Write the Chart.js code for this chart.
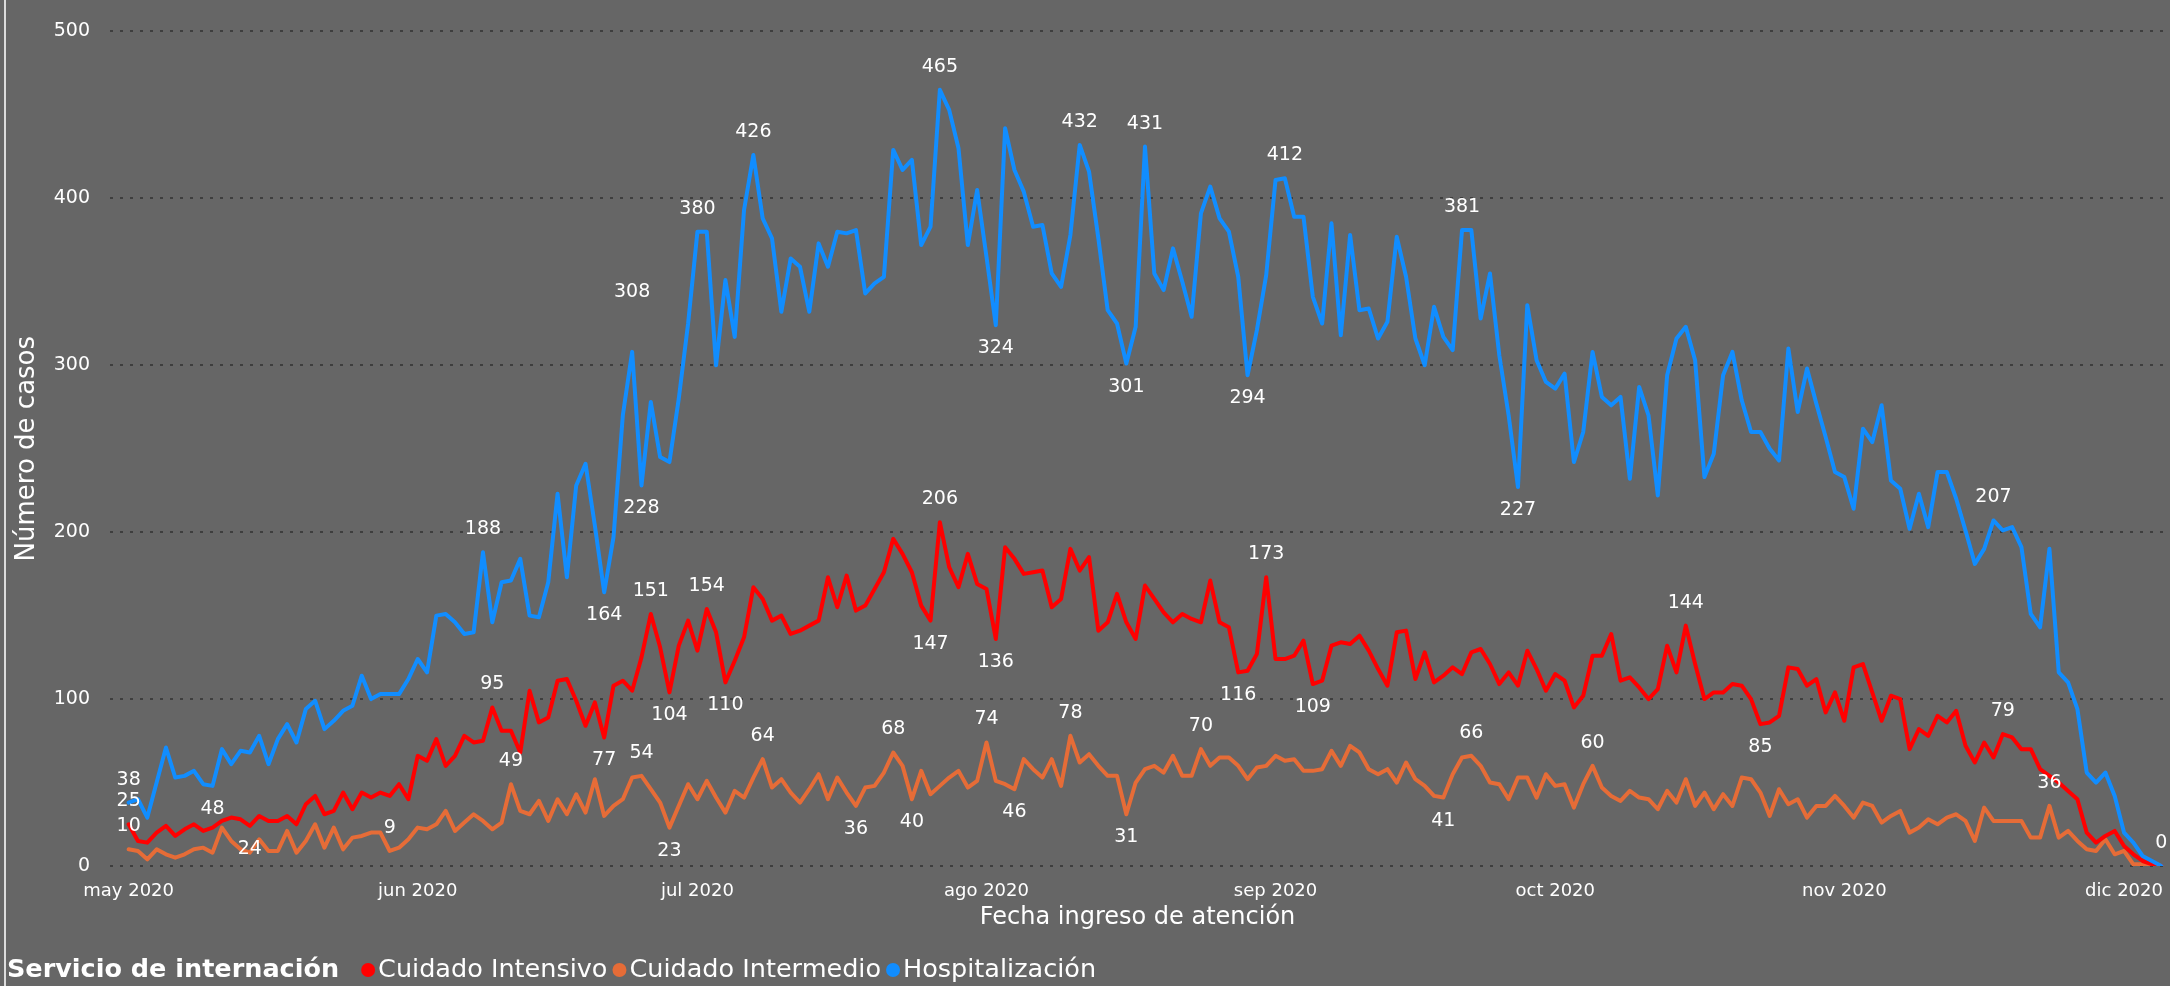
<!DOCTYPE html>
<html>
<head>
<meta charset="utf-8">
<script src="https://cdn.jsdelivr.net/npm/chart.js@4.4.0/dist/chart.umd.min.js"></script>
<style>
html,body{margin:0;padding:0;background:#666666;}
#wrap{position:relative;width:2170px;height:986px;}
</style>
</head>
<body>
<div id="wrap"><canvas id="c"></canvas></div>
<script>
// x values are day offsets from 1 May 2020
const MONTH_TICKS = [0, 31, 61, 92, 123, 153, 184, 214];
const MONTH_LABELS = ['may 2020','jun 2020','jul 2020','ago 2020','sep 2020','oct 2020','nov 2020','dic 2020'];
const Y_TICKS = [0, 100, 200, 300, 400, 500];
const SERIES_NAMES = ['Cuidado Intensivo', 'Cuidado Intermedio', 'Hospitalización'];
const LEGEND_TITLE = 'Servicio de internación';
const X_TITLE = 'Fecha ingreso de atención';
const Y_TITLE = 'Número de casos';

const INTENSIVO = [
  25,15,14,20,24,18,22,25,21,23,
  27,29,28,24,30,27,27,30,25,37,
  42,31,33,44,34,44,41,44,42,49,
  40,66,63,76,60,66,78,74,75,95,
  81,81,68,105,86,89,111,112,99,84,
  98,77,108,111,105,125,151,131,104,132,
  147,129,154,140,110,123,137,167,160,147,
  150,139,141,144,147,173,155,174,153,156,
  166,176,196,187,176,156,147,206,179,167,
  187,169,166,136,191,184,175,176,177,155,
  160,190,177,185,141,146,163,146,136,168,
  160,152,146,151,148,146,171,146,143,116,
  117,127,173,124,124,126,135,109,111,132,
  134,133,138,129,118,108,140,141,112,128,
  110,114,119,115,128,130,121,109,116,108,
  129,118,105,115,111,95,102,126,126,139,
  111,113,107,100,106,132,116,144,121,100,
  104,104,109,108,100,85,86,90,119,118,
  108,112,92,104,87,119,121,104,87,102,
  100,70,82,78,90,86,93,72,62,74,
  65,79,77,70,70,58,54,50,45,40,
  20,14,18,21,12,7,3,1,0
];
const INTERMEDIO = [
  10,9,4,10,7,5,7,10,11,8,
  23,15,10,8,16,9,9,21,8,15,
  25,11,23,10,17,18,20,20,9,11,
  16,23,22,25,33,21,26,31,27,22,
  26,49,33,31,39,27,40,31,43,32,
  52,30,36,40,53,54,46,38,23,36,
  49,40,51,41,32,45,41,53,64,47,
  52,44,38,46,55,40,53,44,36,47,
  48,56,68,60,40,57,43,48,53,57,
  47,51,74,51,49,46,64,58,53,64,
  48,78,62,67,60,54,54,31,50,58,
  60,56,66,54,54,70,60,65,65,60,
  52,59,60,66,63,64,57,57,58,69,
  60,72,68,58,55,58,50,62,52,48,
  42,41,55,65,66,60,50,49,40,53,
  53,41,55,48,49,35,49,60,47,42,
  39,45,41,40,34,45,38,52,36,44,
  34,43,36,53,52,44,30,46,37,40,
  29,36,36,42,36,29,38,36,26,30,
  33,20,23,28,25,29,31,27,15,35,
  27,27,27,27,17,17,36,17,21,15,
  10,9,16,7,9,1,1,1,0
];
const HOSPITALIZACION = [
  38,40,29,50,71,53,54,57,49,48,
  70,61,69,68,78,61,76,85,74,94,
  99,82,87,93,96,114,100,103,103,103,
  112,124,116,150,151,146,139,140,188,146,
  170,171,184,150,149,170,223,173,228,241,
  204,164,197,270,308,228,278,245,242,280,
  325,380,380,300,351,317,393,426,388,376,
  332,364,359,332,373,359,380,379,381,343,
  349,353,429,417,423,372,383,465,453,430,
  372,405,365,324,442,417,404,383,384,355,
  347,378,432,416,376,333,325,301,323,431,
  355,345,370,350,329,391,407,388,380,353,
  294,321,354,411,412,389,389,341,325,385,
  318,378,333,334,316,326,377,353,316,300,
  335,317,309,381,381,328,355,306,270,227,
  336,303,290,286,295,242,260,308,281,276,
  281,232,287,270,222,294,316,323,303,233,
  247,294,308,279,260,260,250,243,310,272,
  298,277,257,236,233,214,262,254,276,231,
  226,202,223,203,236,236,220,201,181,190,
  207,201,203,191,151,143,190,116,110,94,
  56,50,56,42,20,14,6,3,0
];

// days that carry a data label, and whether the label sits above or below the point
const LABELS_INTENSIVO = [[0,'up'],[13,'down'],[39,'up'],[51,'down'],[56,'up'],[58,'down'],[62,'up'],[64,'down'],[86,'down'],[87,'up'],[93,'down'],[119,'down'],[122,'up'],[127,'down'],[167,'up'],[175,'down'],[201,'up']];
const LABELS_INTERMEDIO = [[0,'up'],[28,'up'],[41,'up'],[55,'up'],[58,'down'],[68,'up'],[78,'down'],[82,'up'],[84,'down'],[92,'up'],[95,'down'],[101,'up'],[107,'down'],[115,'up'],[141,'down'],[144,'up'],[157,'up'],[206,'up']];
const LABELS_HOSPITALIZACION = [[0,'up'],[9,'down'],[38,'up'],[51,'down'],[54,'high'],[55,'down'],[61,'up'],[67,'up'],[87,'up'],[93,'down'],[102,'up'],[107,'down'],[109,'up'],[120,'down'],[124,'up'],[143,'up'],[149,'down'],[200,'up'],[218,'up']];

const COLORS = ['#FF0000', '#E66C37', '#118DFF'];
const FONT = '"DejaVu Sans", Verdana, sans-serif';
const LABEL_OFFSETS = {up:-23, down:23, high:-60};

function toPoints(arr){ return arr.map((v,i)=>({x:i, y:v})); }

const bgPlugin = {
  id:'bg',
  beforeDraw(chart){
    const c = chart.ctx;
    c.save();
    c.fillStyle = '#666666';
    c.fillRect(0,0,chart.width,chart.height);
    c.fillStyle = '#dcdcdc';
    c.fillRect(4,0,2,chart.height);
    c.restore();
  }
};

const labelPlugin = {
  id:'pointLabels',
  afterDatasetsDraw(chart){
    const c = chart.ctx;
    const sets = [LABELS_INTENSIVO, LABELS_INTERMEDIO, LABELS_HOSPITALIZACION];
    c.save();
    c.font = '19px ' + FONT;
    c.fillStyle = '#ffffff';
    c.textAlign = 'center';
    c.textBaseline = 'middle';
    sets.forEach((list, di)=>{
      const meta = chart.getDatasetMeta(di);
      const data = chart.data.datasets[di].data;
      list.forEach(([idx, side])=>{
        const el = meta.data[idx];
        if(!el) return;
        c.fillText(String(data[idx].y), el.x, el.y + LABEL_OFFSETS[side]);
      });
    });
    c.restore();
  }
};

const legendPlugin = {
  id:'customLegend',
  afterDraw(chart){
    const c = chart.ctx;
    const y = 970;
    c.save();
    c.textBaseline = 'middle';
    c.textAlign = 'left';
    c.fillStyle = '#ffffff';
    c.font = 'bold 25.5px ' + FONT;
    let x = 7;
    c.fillText(LEGEND_TITLE, x, y);
    x += c.measureText(LEGEND_TITLE).width + 22;
    c.font = '25.5px ' + FONT;
    SERIES_NAMES.forEach((name, i)=>{
      c.fillStyle = COLORS[i];
      c.beginPath();
      c.arc(x + 7, y, 7, 0, Math.PI*2);
      c.fill();
      c.fillStyle = '#ffffff';
      c.fillText(name, x + 17, y);
      x += 17 + c.measureText(name).width + 5;
    });
    c.restore();
  }
};

new Chart(document.getElementById('c'), {
  type:'line',
  data:{
    datasets:[
      {label:SERIES_NAMES[0], data:toPoints(INTENSIVO), borderColor:COLORS[0], backgroundColor:COLORS[0], order:2},
      {label:SERIES_NAMES[1], data:toPoints(INTERMEDIO), borderColor:COLORS[1], backgroundColor:COLORS[1], order:3},
      {label:SERIES_NAMES[2], data:toPoints(HOSPITALIZACION), borderColor:COLORS[2], backgroundColor:COLORS[2], order:1}
    ]
  },
  options:{
    responsive:true,
    maintainAspectRatio:false,
    animation:false,
    layout:{padding:{left:0, right:2, top:24, bottom:54}},
    elements:{
      point:{radius:0, hoverRadius:0},
      line:{borderWidth:4, tension:0, borderJoinStyle:'round', borderCapStyle:'round'}
    },
    plugins:{legend:{display:false}, tooltip:{enabled:false}},
    scales:{
      x:{
        type:'linear',
        min:-2,
        max:218.4,
        afterBuildTicks(scale){ scale.ticks = MONTH_TICKS.map(v=>({value:v})); },
        afterFit(scale){ scale.height = 66; },
        ticks:{
          autoSkip:false, maxRotation:0, minRotation:0,
          color:'#ffffff', font:{family:FONT, size:18}, padding:7,
          callback(value){ const k = MONTH_TICKS.indexOf(value); return k >= 0 ? MONTH_LABELS[k] : ''; }
        },
        grid:{display:false},
        border:{display:false},
        title:{display:true, text:X_TITLE, color:'#ffffff', font:{family:FONT, size:24}, padding:{top:0,bottom:0}}
      },
      y:{
        min:0, max:500,
        afterBuildTicks(scale){ scale.ticks = Y_TICKS.map(v=>({value:v})); },
        afterFit(scale){ scale.width = 110; },
        ticks:{color:'#ffffff', font:{family:FONT, size:19}, padding:20},
        grid:{color:'#3e3e3e', lineWidth:2, drawTicks:false},
        border:{display:false, dash:[3,7]},
        title:{display:true, text:Y_TITLE, color:'#ffffff', font:{family:FONT, size:26}, padding:{top:12,bottom:0}}
      }
    }
  },
  plugins:[bgPlugin, labelPlugin, legendPlugin]
});
</script>
</body>
</html>
